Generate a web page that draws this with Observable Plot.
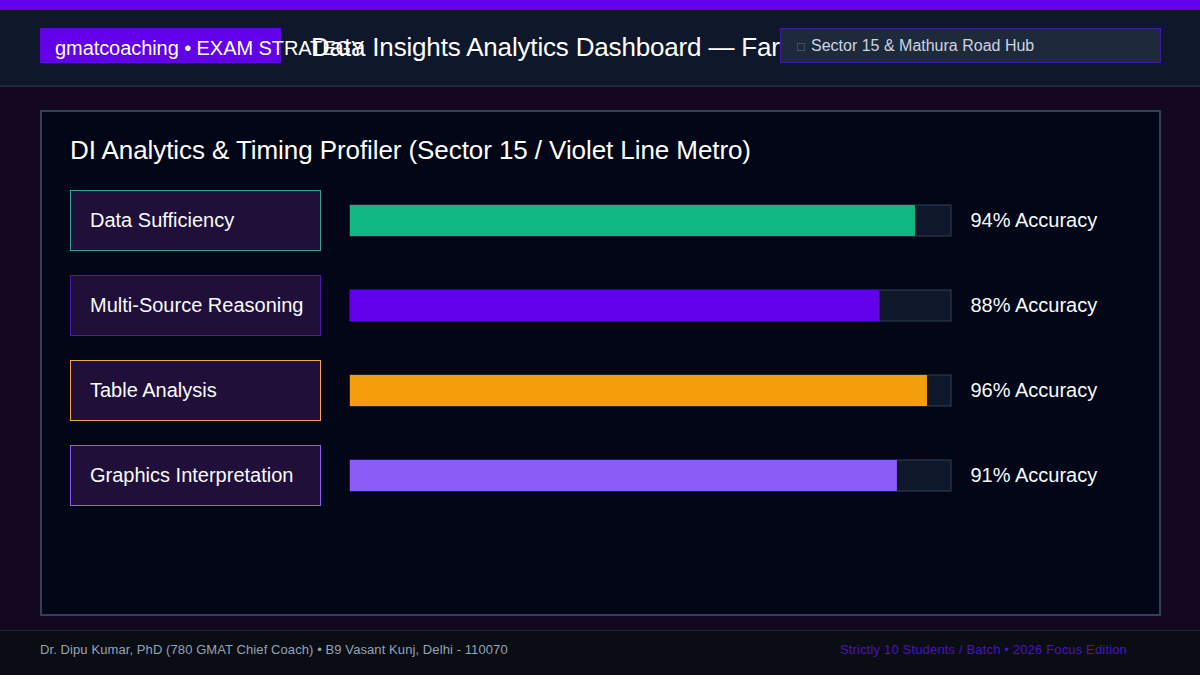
<!DOCTYPE html>
<html><head><meta charset="utf-8">
<script src="https://cdn.jsdelivr.net/npm/d3@7"></script>
<script src="https://cdn.jsdelivr.net/npm/@observablehq/plot@0.6"></script>
<style>
html,body{margin:0;padding:0;background:#130820;}
#page{position:relative;width:1200px;height:675px;overflow:hidden;background:#130820;font-family:"Liberation Sans",Arial,sans-serif;color:#fff;}
#page>div,#page>svg{position:absolute;box-sizing:border-box;white-space:nowrap;}
#topbar{left:0;top:0;width:1200px;height:10px;background:#6200ea;}
#header{left:0;top:10px;width:1200px;height:77px;background:#0f172a;border-bottom:2px solid #1e293b;}
#tag{left:40px;top:28px;width:241px;height:35px;background:#6200ea;padding:9px 15px 0;font-size:20px;line-height:22px;letter-spacing:-.07px;}
#title{left:311px;top:31px;font-size:26px;line-height:32px;letter-spacing:-.17px;}
#hub{left:780px;top:28px;width:381px;height:35px;background:#1e293b;border:1px solid #42189f;padding:7px 16px 0;font-size:16px;line-height:19px;color:#cbd5e1;}
#hub span{color:#64748b;font-size:13px;display:inline-block;width:14px;}
#panel{left:40px;top:110px;width:1121px;height:506px;background:#020617;border:2px solid #334155;}
#heading{left:70px;top:134px;font-size:26px;line-height:32px;letter-spacing:-.08px;}
.cat{left:70px;width:251px;height:61px;background:#200f38;border:1px solid;padding:17px 19px 0;font-size:20px;line-height:24px;color:#f8fafc;}
#footer{left:0;top:630px;width:1200px;height:45px;background:#0a0d14;border-top:1px solid #1e293b;}
#credit{left:40px;top:642px;font-size:13px;line-height:16px;color:#94a3b8;letter-spacing:.09px;}
#batch{left:840px;top:642px;font-size:13px;line-height:16px;color:#4c15b8;letter-spacing:.16px;}
</style></head><body>
<div id="page">
<div id="topbar"></div>
<div id="header"></div>
<div id="tag">gmatcoaching • EXAM STRATEGY</div>
<div id="title">Data Insights Analytics Dashboard — Faridabad</div>
<div id="hub"><span>□</span>Sector 15 &amp; Mathura Road Hub</div>
<div id="panel"></div>
<div id="heading">DI Analytics &amp; Timing Profiler (Sector 15 / Violet Line Metro)</div>
<div id="footer"></div>
<div id="credit">Dr. Dipu Kumar, PhD (780 GMAT Chief Coach) • B9 Vasant Kunj, Delhi - 110070</div>
<div id="batch">Strictly 10 Students / Batch • 2026 Focus Edition</div>
</div>
<script>
const categories = ["Data Sufficiency", "Multi-Source Reasoning", "Table Analysis", "Graphics Interpretation"];
const accuracy = [94, 88, 96, 91];
const barColors = ["#10b981", "#6200ea", "#f59e0b", "#8b5cf6"];
const boxBorders = ["#3aa58f", "#4a1bb0", "#f0a64a", "#8b5cf6"];
const axisMax = 100;

const rows = categories.map((name, i) => ({name, value: accuracy[i], color: barColors[i], label: accuracy[i] + "% Accuracy"}));
const page = document.getElementById("page");
const rowStep = 85, rowsTop = 178;

const chart = Plot.plot({
  width: 1200, height: rowStep * categories.length,
  marginLeft: 350, marginRight: 249, marginTop: 0, marginBottom: 0,
  style: {background: "transparent", fontFamily: '"Liberation Sans",Arial,sans-serif', overflow: "visible"},
  x: {domain: [0, axisMax], axis: null},
  y: {domain: categories, axis: null, padding: 0},
  marks: [
    Plot.barX(rows, {x1: () => 0, x2: () => axisMax, y: "name", fill: "#0f172a", stroke: "#334155", strokeWidth: 1, insetTop: 27, insetBottom: 27}),
    Plot.barX(rows, {x1: () => 0, x2: "value", y: "name", fill: "color", insetTop: 27, insetBottom: 27}),
    Plot.text(rows, {x: () => axisMax, y: "name", text: "label", textAnchor: "start", dx: 19, fontSize: 20, fill: "#f8fafc"})
  ]
});
chart.style.left = "0px";
chart.style.top = rowsTop + "px";
page.appendChild(chart);

categories.forEach((name, i) => {
  const box = document.createElement("div");
  box.className = "cat";
  box.textContent = name;
  box.style.top = (190 + i * rowStep) + "px";
  box.style.borderColor = boxBorders[i];
  page.appendChild(box);
});
</script>
</body></html>
